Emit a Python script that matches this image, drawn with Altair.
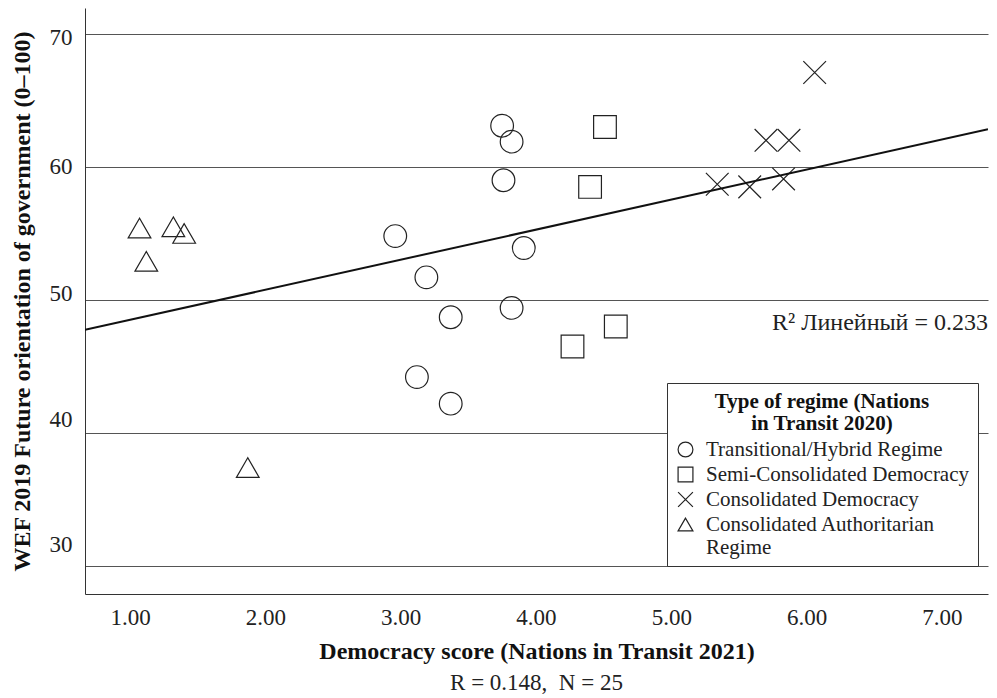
import altair as alt
import pandas as pd

FONT = "Liberation Serif"

regimes = [
    "Transitional/Hybrid Regime",
    "Semi-Consolidated Democracy",
    "Consolidated Democracy",
    "Consolidated Authoritarian Regime",
]
shapes = ["circle", "square", "M-1,-1L1,1M-1,1L1,-1", "triangle-up"]

# Democracy score (x) and WEF future orientation (y) per regime type
hybrid_x = [3.75, 3.82, 3.76, 2.96, 3.91, 3.19, 3.82, 3.37, 3.12, 3.37]
hybrid_y = [63.1, 61.9, 59.0, 54.8, 53.9, 51.7, 49.4, 48.7, 44.2, 42.2]
semi_x = [4.51, 4.40, 4.59, 4.27]
semi_y = [63.0, 58.5, 48.0, 46.5]
cons_x = [6.06, 5.70, 5.87, 5.34, 5.58, 5.83]
cons_y = [67.1, 62.0, 62.0, 58.7, 58.5, 59.1]
auth_x = [1.07, 1.32, 1.40, 1.12, 1.87]
auth_y = [55.4, 55.5, 55.0, 52.9, 37.4]

x_domain = [0.667, 7.341]
y_domain = [27.89, 71.95]
x_ticks = [1, 2, 3, 4, 5, 6, 7]
y_ticks = [30, 40, 50, 60, 70]

r2_label = ["R\u00b2 \u041b\u0438\u043d\u0435\u0439\u043d\u044b\u0439 = 0.233"]
r2_x = [7.341]
r2_y = [48.27]

rows = []
for name, xs, ys in [
    (regimes[0], hybrid_x, hybrid_y),
    (regimes[1], semi_x, semi_y),
    (regimes[2], cons_x, cons_y),
    (regimes[3], auth_x, auth_y),
]:
    for a, b in zip(xs, ys):
        rows.append({"x": a, "y": b, "regime": name})
df = pd.DataFrame(rows)
ann = pd.DataFrame({"x": r2_x, "y": r2_y, "label": r2_label})

x_enc = alt.X(
    "x:Q",
    scale=alt.Scale(domain=x_domain, nice=False, zero=False),
    axis=alt.Axis(
        title="Democracy score (Nations in Transit 2021)",
        values=x_ticks,
        format=".2f",
        grid=False,
        ticks=False,
        labelPadding=12,
        titlePadding=10,
    ),
)
y_enc = alt.Y(
    "y:Q",
    scale=alt.Scale(domain=y_domain, nice=False, zero=False),
    axis=alt.Axis(
        title="WEF 2019 Future orientation of government (0\u2013100)",
        values=y_ticks,
        grid=True,
        ticks=False,
        labelPadding=13,
        titlePadding=15,
        labelOffset={
            "condition": [
                {"test": "datum.value == 70", "value": 4},
                {"test": "datum.value == 50", "value": -6},
                {"test": "datum.value == 40", "value": -13},
                {"test": "datum.value == 30", "value": -21},
            ],
            "value": 0,
        },
    ),
)

points = alt.Chart(df).mark_point(
    filled=False, size=515, strokeWidth=1.2, color="#222", opacity=1
).encode(
    x=x_enc,
    y=y_enc,
    shape=alt.Shape(
        "regime:N",
        scale=alt.Scale(domain=regimes, range=shapes),
        legend=alt.Legend(
            title=["Type of regime (Nations", "in Transit 2020)"],
            orient="none",
            legendX=582,
            legendY=375,
            padding=8,
            strokeColor="#333",
            fillColor="white",
            titleFont=FONT,
            titleFontSize=21,
            titleFontWeight="bold",
            titleColor="#111",
            titleAlign="center",
            titleAnchor="middle",
            titleLineHeight=22,
            titleLimit=500,
            titlePadding=5,
            labelFont=FONT,
            labelFontSize=21,
            labelColor="#222",
            labelLimit=400,
            labelOffset=10,
            symbolSize=220,
            symbolStrokeWidth=1.2,
            symbolFillColor="transparent",
            rowPadding=3,
            labelExpr="datum.label == 'Consolidated Authoritarian Regime' ? ['Consolidated Authoritarian', 'Regime'] : datum.label",
        ),
    ),
)

fit = alt.Chart(df).transform_regression(
    "x", "y", extent=x_domain
).mark_line(color="#111", strokeWidth=2, clip=True).encode(x="x:Q", y="y:Q")

r2_text = alt.Chart(ann).mark_text(
    align="right", baseline="middle", font=FONT, fontSize=24, color="#222"
).encode(x="x:Q", y="y:Q", text="label:N")

chart = (
    alt.layer(points, fit, r2_text)
    .properties(
        width=903,
        height=586,
        padding={"left": 77, "top": 0, "right": 1, "bottom": 103},
        autosize=alt.AutoSizeParams(type="none"),
        title=alt.Title(
            "R = 0.148,\u00a0 N = 25",
            orient="bottom",
            font=FONT,
            fontSize=23,
            fontWeight="normal",
            color="#222",
            offset=9,
        ),
    )
    .configure(font=FONT)
    .configure_view(stroke=None)
    .configure_axis(
        labelFont=FONT,
        labelFontSize=23,
        labelColor="#222",
        titleFont=FONT,
        titleFontSize=24,
        titleFontWeight="bold",
        titleColor="#111",
        domainColor="#333",
        domainWidth=1,
        gridColor="#555",
        gridWidth=1,
    )
)

chart.save("out.html", embed_options={"renderer": "svg", "actions": False})
